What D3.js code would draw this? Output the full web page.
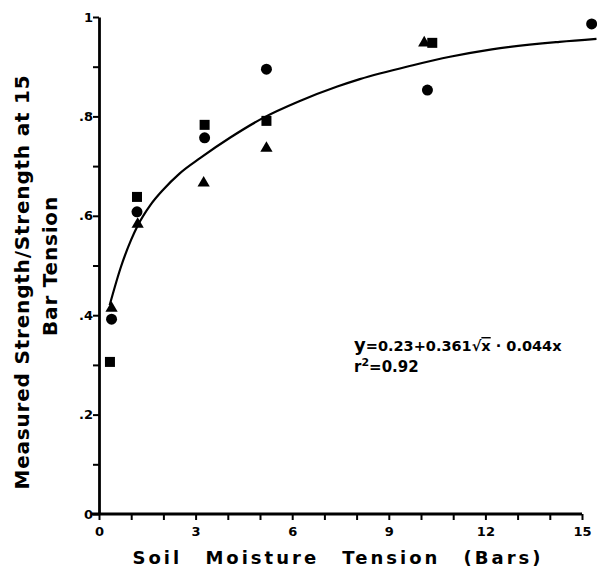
<!DOCTYPE html>
<html lang="en">
<head>
  <meta charset="UTF-8"/>
  <title>Soil Moisture Tension</title>
  <script src="https://d3js.org/d3.v7.min.js"></script>
  <style>
    body { margin: 0; background: #fff; }
    text { font-family: "DejaVu Sans", sans-serif; font-weight: bold; fill: #000; }
    .domain { stroke-width: 2.8; }
    .tick line { stroke-width: 2; }
  </style>
</head>
<body>
<script>

  var w = 597;
  var h = 569;

  // circle series
  var circleX = [0.39, 1.18, 3.28, 5.2, 10.2, 15.3];
  var circleY = [0.392, 0.608, 0.757, 0.895, 0.853, 0.986];

  // square series
  var squareX = [0.34, 1.18, 3.28, 5.2, 10.35];
  var squareY = [0.306, 0.638, 0.783, 0.791, 0.948];

  // triangle series
  var triX = [0.39, 1.2, 3.25, 5.2, 10.1];
  var triY = [0.414, 0.583, 0.666, 0.736, 0.948];

  // fitted curve
  var fitX = [0.33, 0.68, 1.0, 1.2, 1.6, 2.0, 2.5, 3.16, 4.09, 5.1, 6.2, 7.4, 8.1, 9.75, 10.9, 12.2, 14.3, 15.45];
  var fitY = [0.42, 0.497, 0.552, 0.580, 0.622, 0.653, 0.685, 0.717, 0.758, 0.797, 0.830, 0.860, 0.875, 0.903, 0.920, 0.935, 0.950, 0.956];

  var xTicks = d3.range(0, 16, 1);
  var xLabels = [0, 3, 6, 9, 12, 15];
  var yTicks = d3.range(0, 11, 1).map(function(d) { return d / 10; });
  var yLabels = {"0": "0", "2": ".2", "4": ".4", "6": ".6", "8": ".8", "10": "1"};

  var x = d3.scaleLinear().domain([0, 15]).range([99, 582]);
  var y = d3.scaleLinear().domain([0, 1]).range([514, 17]);

  var svg = d3.select("body")
              .append("svg")
              .attr("width", w)
              .attr("height", h);

  // x axis
  var xAxis = svg.append("g")
     .attr("transform", "translate(0," + y(0) + ")")
     .call(d3.axisBottom(x)
             .tickValues(xTicks)
             .tickSize(6)
             .tickSizeOuter(0)
             .tickFormat(function(d) { return xLabels.indexOf(d) >= 0 ? d : ""; }));
  xAxis.select(".domain").attr("d", "M92,0H" + x(15));
  xAxis.selectAll("text").attr("y", 13).style("font-size", "13px");

  // y axis
  var yAxis = svg.append("g")
     .attr("transform", "translate(" + x(0) + ",0)")
     .call(d3.axisLeft(y)
             .tickValues(yTicks)
             .tickSize(6)
             .tickSizeOuter(0)
             .tickFormat(function(d) {
               var k = String(Math.round(d * 10));
               return yLabels[k] !== undefined ? yLabels[k] : "";
             }));
  yAxis.selectAll("text").attr("x", -6).style("font-size", "13px");

  // axis titles
  svg.append("text")
     .attr("x", 338)
     .attr("y", 564)
     .attr("text-anchor", "middle")
     .style("font-size", "18px")
     .style("letter-spacing", "3px")
     .style("word-spacing", "14px")
     .text("Soil Moisture Tension (Bars)");

  svg.append("text")
     .attr("transform", "translate(29,282) rotate(-90)")
     .attr("text-anchor", "middle")
     .style("font-size", "20px")
     .style("letter-spacing", "0.8px")
     .text("Measured Strength/Strength at 15");

  svg.append("text")
     .attr("transform", "translate(57,266) rotate(-90)")
     .attr("text-anchor", "middle")
     .style("font-size", "20px")
     .style("letter-spacing", "0.8px")
     .text("Bar Tension");

  // fitted curve
  var line = d3.line()
               .x(function(d, i) { return x(fitX[i]); })
               .y(function(d, i) { return y(d); })
               .curve(d3.curveMonotoneX);

  svg.append("path")
     .datum(fitY)
     .attr("d", line)
     .attr("fill", "none")
     .attr("stroke", "#000")
     .attr("stroke-width", 2.2);

  // markers
  svg.selectAll(".circ")
     .data(circleY)
     .enter()
     .append("circle")
     .attr("cx", function(d, i) { return x(circleX[i]); })
     .attr("cy", function(d) { return y(d); })
     .attr("r", 5.5)
     .style("fill", "#000");

  svg.selectAll(".sq")
     .data(squareY)
     .enter()
     .append("rect")
     .attr("x", function(d, i) { return x(squareX[i]) - 5; })
     .attr("y", function(d) { return y(d) - 5; })
     .attr("width", 10)
     .attr("height", 10)
     .style("fill", "#000");

  var tri = d3.symbol().type(d3.symbolTriangle).size(65);
  svg.selectAll(".tri")
     .data(triY)
     .enter()
     .append("path")
     .attr("d", tri)
     .attr("transform", function(d, i) { return "translate(" + x(triX[i]) + "," + y(d) + ")"; })
     .style("fill", "#000");

  // equation
  var eq = svg.append("text")
     .attr("x", 354)
     .attr("y", 351)
     .style("font-size", "14.5px");
  eq.append("tspan").style("font-size", "18px").text("y");
  eq.append("tspan").text("=0.23+0.361\u221A");
  eq.append("tspan").style("text-decoration", "overline").text("x");
  eq.append("tspan").text(" \u00B7 0.044x");

  var r2 = svg.append("text")
     .attr("x", 354)
     .attr("y", 372)
     .style("font-size", "15px");
  r2.append("tspan").text("r");
  r2.append("tspan").attr("dy", -6).style("font-size", "11px").text("2");
  r2.append("tspan").attr("dy", 6).text("=0.92");

</script>
</body>
</html>
